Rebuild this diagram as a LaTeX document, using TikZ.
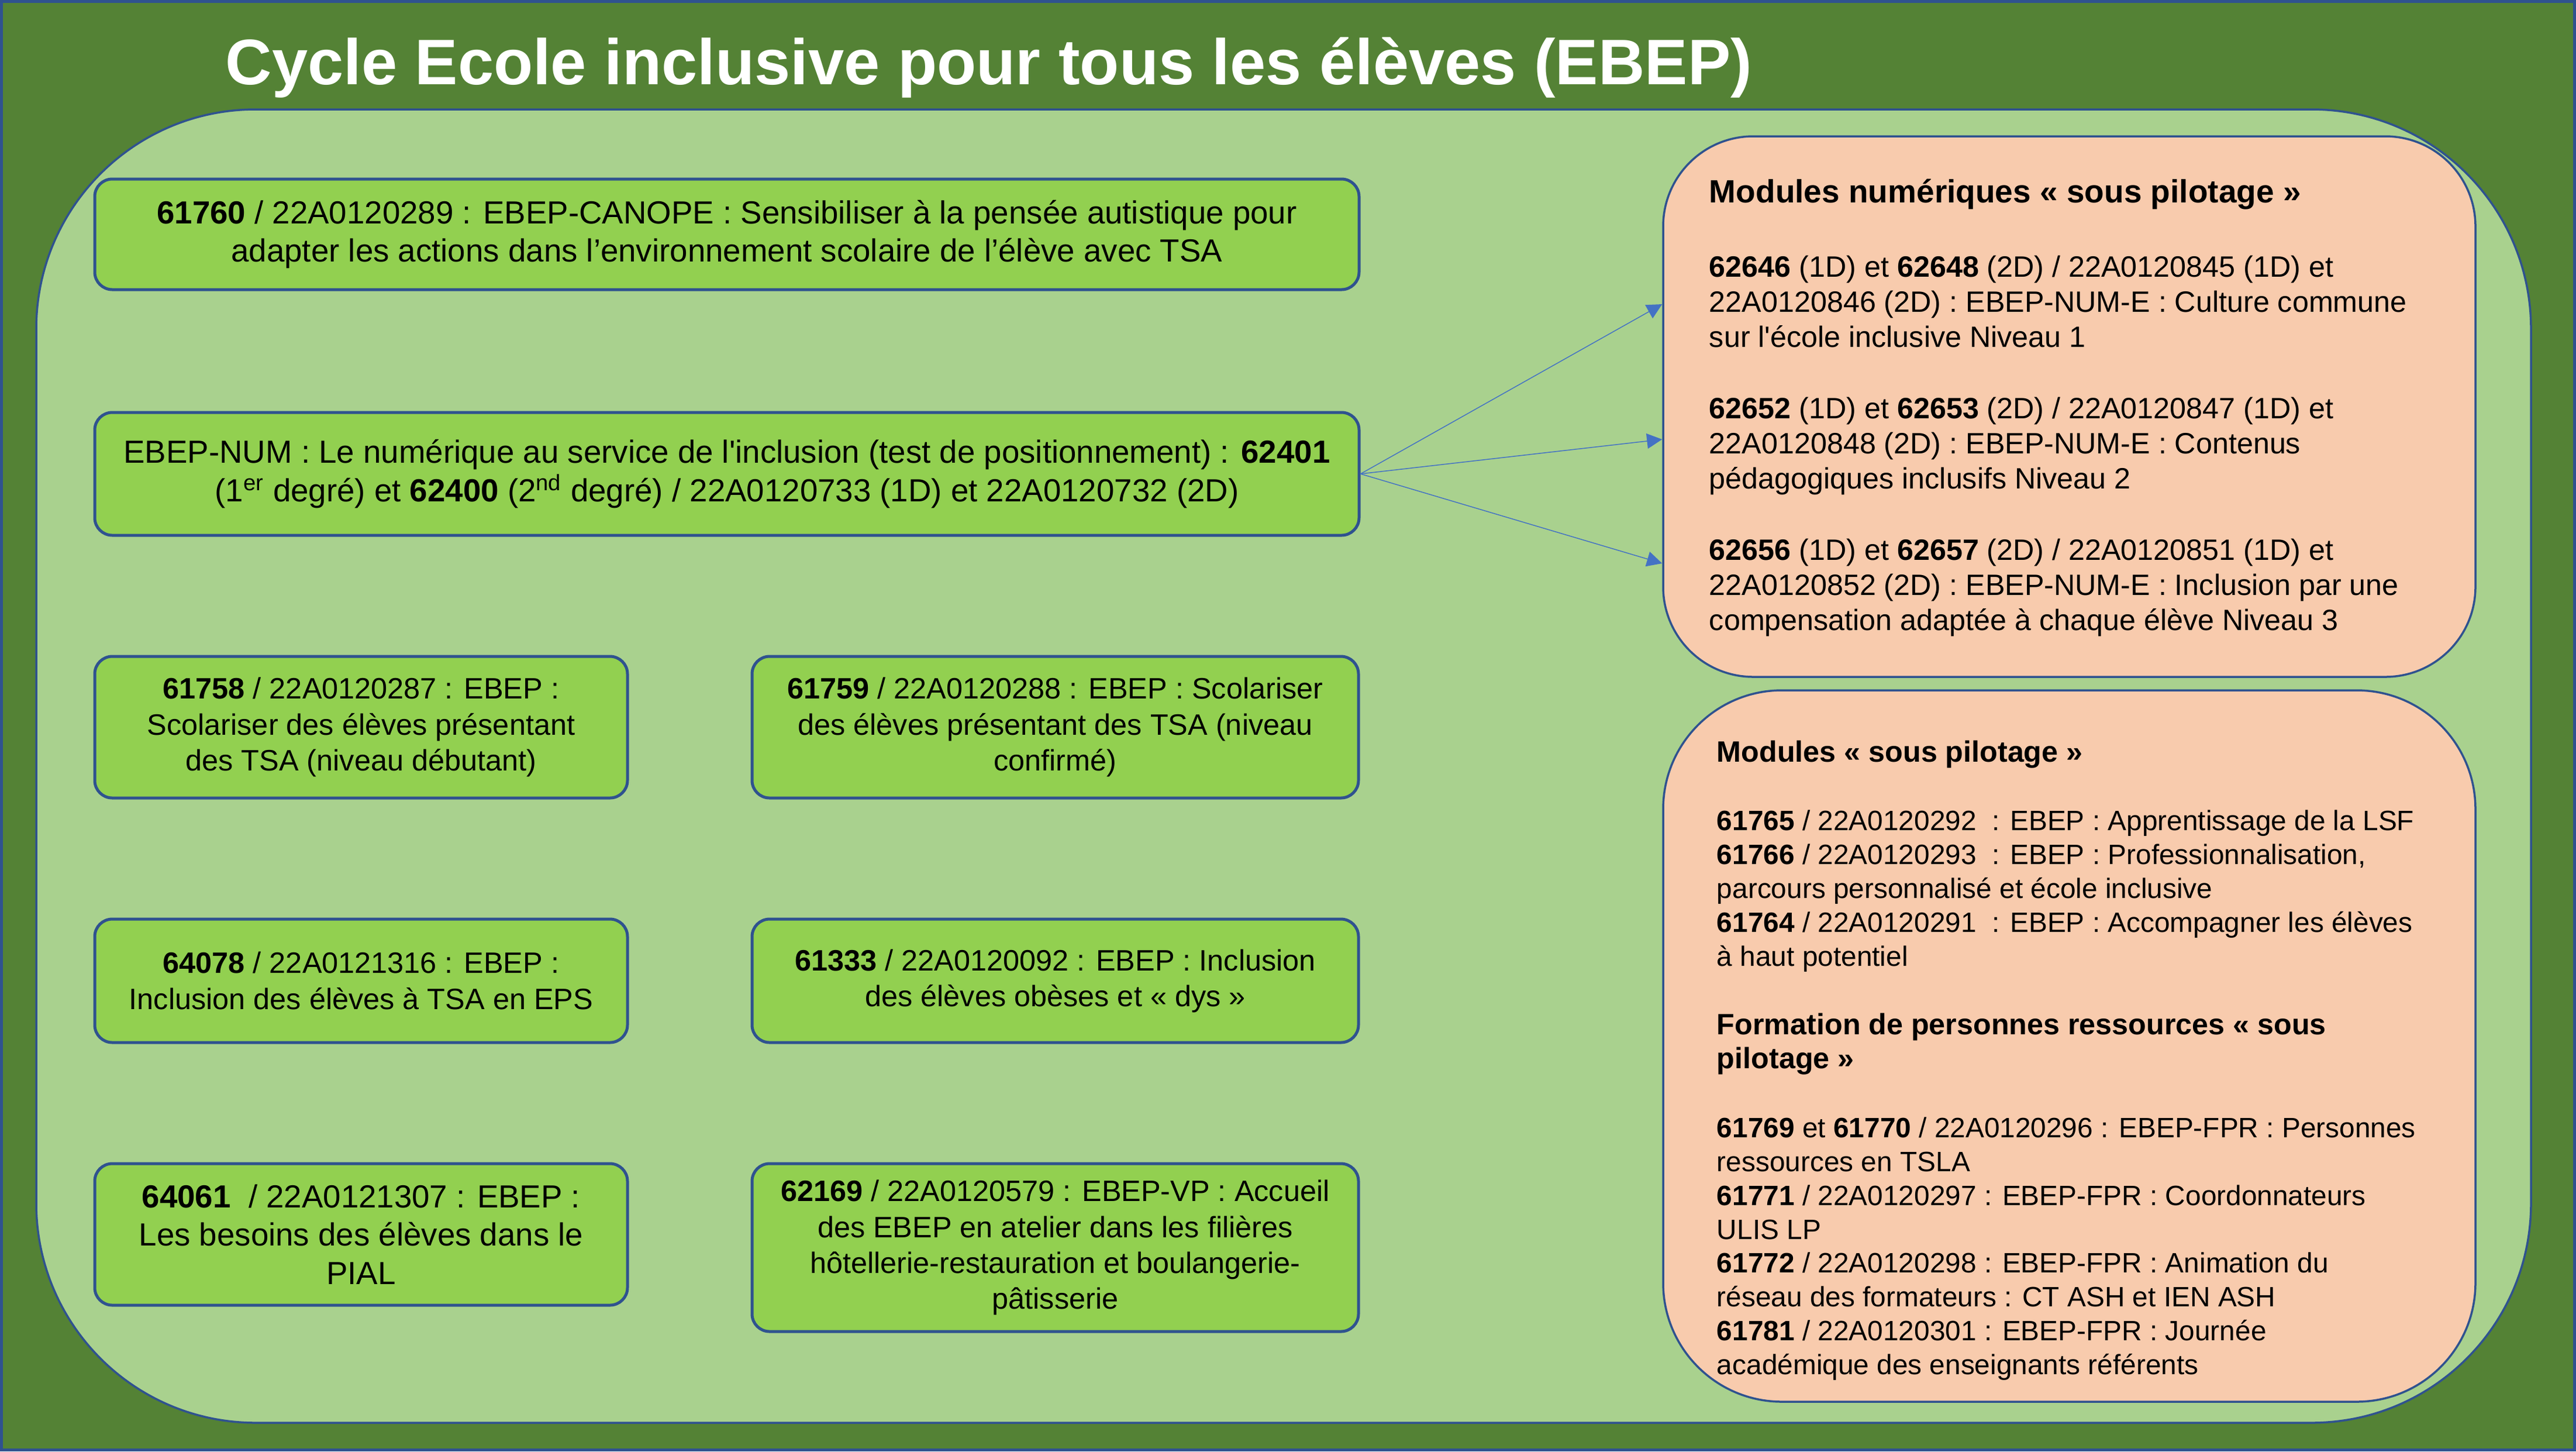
\documentclass[tikz,border=0pt]{standalone}
\usepackage{fontspec}
\setmainfont{Liberation Sans}[Ligatures=TeXOff]
\usetikzlibrary{positioning, arrows.meta}
\definecolor{darkgreen}{HTML}{548235}
\definecolor{lightgreen}{HTML}{A9D18E}
\definecolor{boxgreen}{HTML}{92D050}
\definecolor{peach}{HTML}{F8CBAD}
\definecolor{bordblue}{HTML}{2F528F}
\definecolor{arrowblue}{HTML}{4472C4}
\newcommand{\titlefont}{\fontsize{31.3}{38}\bfseries\selectfont}
\newcommand{\boxfont}{\fontsize{15.55}{18.6}\selectfont}
\newcommand{\midfont}{\fontsize{14.35}{17.4}\selectfont}
\newcommand{\panelfont}{\fontsize{14.3}{17.07}\selectfont}
\newcommand{\pilotfont}{\fontsize{13.6}{16.45}\selectfont}
\newcommand{\numhead}[1]{{\fontsize{15.65}{17.07}\bfseries\selectfont #1}}
\newcommand{\pilothead}[1]{{\fontsize{14.3}{16.45}\bfseries\selectfont #1}}
\tikzset{
node distance=2.02cm and 2.08cm, % vertical and horizontal gap between the green boxes
module/.style={draw=bordblue, line width=0.05cm, fill=boxgreen, rounded corners=0.3cm, align=center, inner sep=0pt}, % green course boxes
wide/.style={module, minimum width=21.62cm},
narrow/.style={module, minimum width=9.11cm},
large/.style={module, minimum width=10.37cm},
panel/.style={draw=bordblue, line width=0.035cm, fill=peach, minimum width=13.89cm}, % peach boxes on the right
link/.style={draw=arrowblue, line width=0.015cm, -{Triangle[length=0.26cm, width=0.26cm]}},
}
\begin{document}
\begin{tikzpicture}
    \useasboundingbox (0,0) rectangle (44.05,-24.81);
    \fill[darkgreen] (0,0) rectangle (44.05,-24.81);
    \draw[bordblue, line width=0.05cm] (0.025,-0.025) rectangle (44.025,-24.785);
    \draw[bordblue, line width=0.035cm, fill=lightgreen, rounded corners=3.75cm] (0.62,-1.87) rectangle (43.28,-24.32);

    \node[font=\titlefont, text=white, anchor=base] (title) at (16.91,-1.44) {Cycle Ecole inclusive pour tous les élèves (EBEP)};

    % left column
    \node[wide, minimum height=1.89cm, font=\boxfont] (c61760) at (12.43,-4.005) {\textbf{61760} / 22A0120289 : EBEP-CANOPE : Sensibiliser à la pensée autistique pour\\ adapter les actions dans l’environnement scolaire de l’élève avec TSA};
    \node[wide, minimum height=2.10cm, below=2.05cm of c61760, font=\boxfont] (ebepnum) {EBEP-NUM : Le numérique au service de l'inclusion (test de positionnement) : \textbf{62401}\\ (1\textsuperscript{er} degré) et \textbf{62400} (2\textsuperscript{nd} degré) / 22A0120733 (1D) et 22A0120732 (2D)};
    \node[narrow, minimum height=2.42cm, below=of ebepnum.south west, anchor=north west, font=\midfont] (c61758) {\textbf{61758} / 22A0120287 : EBEP :\\ Scolariser des élèves présentant\\ des TSA (niveau débutant)};
    \node[large, minimum height=2.42cm, right=of c61758, font=\midfont] (c61759) {\textbf{61759} / 22A0120288 : EBEP : Scolariser\\ des élèves présentant des TSA (niveau\\ confirmé)};
    \node[narrow, minimum height=2.11cm, below=of c61758.south west, anchor=north west, font=\midfont] (c64078) {\textbf{64078} / 22A0121316 : EBEP :\\ Inclusion des élèves à TSA en EPS};
    \node[large, minimum height=2.11cm, right=of c64078, font=\midfont] (c61333) {\textbf{61333} / 22A0120092 : EBEP : Inclusion\\ des élèves obèses et « dys »};
    \node[narrow, minimum height=2.42cm, below=of c64078.south west, anchor=north west, font=\boxfont] (c64061) {\textbf{64061}\ \ / 22A0121307 : EBEP :\\ Les besoins des élèves dans le\\ PIAL};
    \node[large, minimum height=2.87cm, right=of c64061.north east, anchor=north west, font=\midfont] (c62169) {\textbf{62169} / 22A0120579 : EBEP-VP : Accueil\\ des EBEP en atelier dans les filières\\ hôtellerie-restauration et boulangerie-\\ pâtisserie};

    % right column
    \node[panel, minimum height=9.24cm, rounded corners=1.54cm] (numeriques) at (35.385,-6.95) {};
    \node[panel, minimum height=12.16cm, rounded corners=2.03cm, below=0.195cm of numeriques] (pilotage) {};

    % base of a text block = baseline of its last line
    \node[font=\panelfont, align=left, anchor=base west, inner sep=0pt] (numtext) at ([xshift=0.8cm, yshift=-8.46cm]numeriques.north west) {\numhead{Modules numériques « sous pilotage »}\\[0.67cm]
      \textbf{62646} (1D) et \textbf{62648} (2D) / 22A0120845 (1D) et\\ 22A0120846 (2D) : EBEP-NUM-E : Culture commune\\ sur l'école inclusive Niveau 1\\[0.62cm]
      \textbf{62652} (1D) et \textbf{62653} (2D) / 22A0120847 (1D) et\\ 22A0120848 (2D) : EBEP-NUM-E : Contenus\\ pédagogiques inclusifs Niveau 2\\[0.62cm]
      \textbf{62656} (1D) et \textbf{62657} (2D) / 22A0120851 (1D) et\\ 22A0120852 (2D) : EBEP-NUM-E : Inclusion par une\\ compensation adaptée à chaque élève Niveau 3};

    \node[font=\pilotfont, align=left, anchor=base west, inner sep=0pt] (pilotext) at ([xshift=0.93cm, yshift=-11.71cm]pilotage.north west) {\pilothead{Modules « sous pilotage »}\\[0.60cm]
      \textbf{61765} / 22A0120292\ \ : EBEP : Apprentissage de la LSF\\
      \textbf{61766} / 22A0120293\ \ : EBEP : Professionnalisation,\\ parcours personnalisé et école inclusive\\
      \textbf{61764} / 22A0120291\ \ : EBEP : Accompagner les élèves\\ à haut potentiel\\[0.60cm]
      \pilothead{Formation de personnes ressources « sous}\\ \pilothead{pilotage »}\\[0.60cm]
      \textbf{61769} et \textbf{61770} / 22A0120296 : EBEP-FPR : Personnes\\ ressources en TSLA\\
      \textbf{61771} / 22A0120297 : EBEP-FPR : Coordonnateurs\\ ULIS LP\\
      \textbf{61772} / 22A0120298 : EBEP-FPR : Animation du\\ réseau des formateurs : CT ASH et IEN ASH\\
      \textbf{61781} / 22A0120301 : EBEP-FPR : Journée\\ académique des enseignants référents};

    \coordinate (m1) at ([yshift=1.75cm]numeriques.west);
    \coordinate (m2) at ([yshift=-0.56cm]numeriques.west);
    \coordinate (m3) at ([yshift=-2.68cm]numeriques.west);
    \draw[link] (ebepnum.east) -- (m1);
    \draw[link] (ebepnum.east) -- (m2);
    \draw[link] (ebepnum.east) -- (m3);
\end{tikzpicture}
\end{document}
